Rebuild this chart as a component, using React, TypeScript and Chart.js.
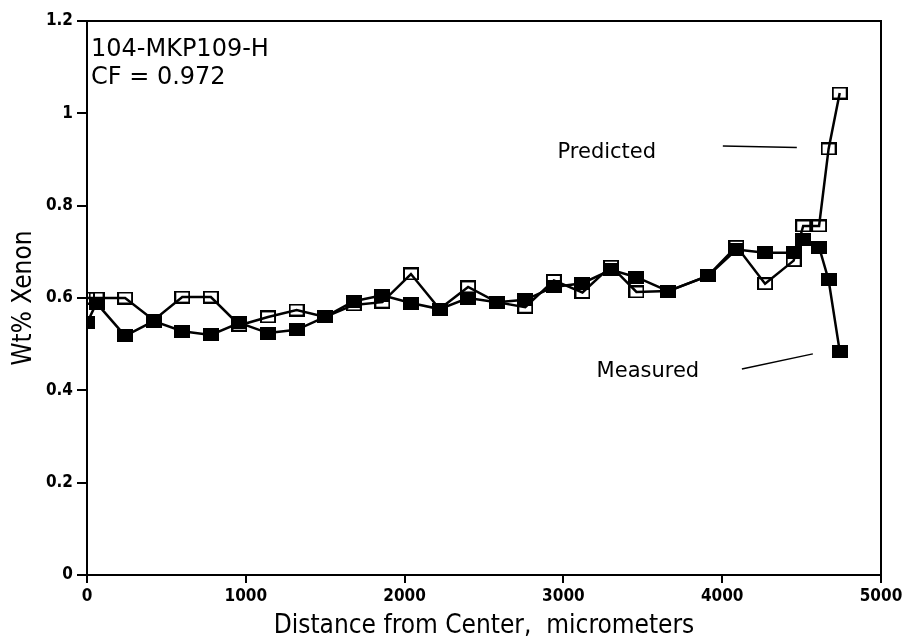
import React, { useEffect, useRef } from "react";
import { Chart, registerables } from "chart.js";

Chart.register(...registerables);

// ---- Data ----
const distances = [
  0, 60, 240, 420, 600, 780, 960, 1140, 1320, 1500, 1680, 1860, 2040, 2220, 2400,
  2580, 2760, 2940, 3120, 3300, 3460, 3660, 3910, 4090, 4270, 4450, 4510, 4610, 4670, 4740,
];
const measured = [
  0.546, 0.589, 0.518, 0.55, 0.528, 0.52, 0.546, 0.524, 0.531, 0.559, 0.593, 0.606, 0.589,
  0.576, 0.6, 0.591, 0.596, 0.624, 0.632, 0.661, 0.645, 0.615, 0.648, 0.705, 0.698, 0.698,
  0.726, 0.71, 0.639, 0.485,
];
const predicted = [
  0.6, 0.6, 0.6, 0.552, 0.602, 0.602, 0.541, 0.559, 0.574, 0.559, 0.585, 0.591, 0.652,
  0.576, 0.624, 0.591, 0.58, 0.638, 0.612, 0.669, 0.613, 0.615, 0.648, 0.712, 0.631, 0.681,
  0.756, 0.756, 0.923, 1.044,
];
const xTickValues = [0, 1000, 2000, 3000, 4000, 5000];
const yTickValues = [0, 0.2, 0.4, 0.6, 0.8, 1, 1.2];
const sampleLabel = "104-MKP109-H";
const cfLabel = "CF = 0.972";
const predictedLabel = "Predicted";
const measuredLabel = "Measured";
const xTitle = "Distance from Center,  micrometers";
const yTitle = "Wt% Xenon";

const FONT = "'DejaVu Sans', sans-serif";
const CFONT = "'DejaVu Sans Condensed', 'DejaVu Sans', sans-serif";

function makeSquare(filled: boolean): HTMLCanvasElement {
  const c = document.createElement("canvas");
  c.width = 16;
  c.height = 13;
  const g = c.getContext("2d")!;
  if (filled) {
    g.fillStyle = "#000";
    g.fillRect(0, 0, 16, 13);
  } else {
    g.strokeStyle = "#000";
    g.lineWidth = 2;
    g.strokeRect(1, 1, 14, 11);
  }
  return c;
}

const annotationPlugin = {
  id: "annotations",
  afterDraw(chart: any) {
    const { ctx, chartArea } = chart;
    const xs = chart.scales.x;
    const ys = chart.scales.y;
    const px = (v: number) => xs.getPixelForValue(v);
    const py = (v: number) => ys.getPixelForValue(v);
    ctx.save();
    // frame
    ctx.strokeStyle = "#000";
    ctx.lineWidth = 2;
    ctx.strokeRect(chartArea.left, chartArea.top, chartArea.right - chartArea.left, chartArea.bottom - chartArea.top);
    // texts
    ctx.fillStyle = "#000";
    ctx.textBaseline = "middle";
    ctx.textAlign = "left";
    ctx.font = `24px ${FONT}`;
    ctx.fillText(sampleLabel, px(25), py(1.137));
    ctx.fillText(cfLabel, px(25), py(1.076));
    ctx.font = `21px ${FONT}`;
    ctx.fillText(predictedLabel, px(2963), py(0.914));
    ctx.fillText(measuredLabel, px(3209), py(0.44));
    // key lines
    ctx.lineWidth = 1.5;
    ctx.beginPath();
    ctx.moveTo(px(4004), py(0.929));
    ctx.lineTo(px(4470), py(0.926));
    ctx.stroke();
    ctx.beginPath();
    ctx.moveTo(px(4124), py(0.446));
    ctx.lineTo(px(4571), py(0.479));
    ctx.stroke();
    ctx.restore();
  },
};

export default function App() {
  const ref = useRef<HTMLCanvasElement | null>(null);
  useEffect(() => {
    document.body.style.margin = "0";
    const openSq = makeSquare(false);
    const fillSq = makeSquare(true);
    const chart = new Chart(ref.current!, {
      type: "line",
      data: {
        datasets: [
          {
            label: "Measured",
            data: distances.map((d, i) => ({ x: d, y: measured[i] })),
            borderColor: "#000",
            borderWidth: 2.5,
            pointStyle: fillSq as any,
            pointRadius: 8,
            fill: false,
            tension: 0,
            order: 0,
          },
          {
            label: "Predicted",
            data: distances.map((d, i) => ({ x: d, y: predicted[i] })),
            borderColor: "#000",
            borderWidth: 2.5,
            pointStyle: openSq as any,
            pointRadius: 8,
            fill: false,
            tension: 0,
            order: 1,
          },
        ],
      },
      options: {
        responsive: false,
        animation: false,
        layout: { padding: { top: 21, right: 27, left: 0, bottom: 0 } },
        plugins: { legend: { display: false }, tooltip: { enabled: false } },
        scales: {
          x: {
            type: "linear",
            min: 0,
            max: 5000,
            afterBuildTicks: (s: any) => {
              s.ticks = xTickValues.map((v) => ({ value: v }));
            },
            afterFit: (s: any) => {
              s.height = 64;
            },
            ticks: {
              color: "#000",
              font: { family: CFONT, size: 17, weight: "bold" },
              padding: 3,
              maxRotation: 0,
              callback: (v: any) => String(v),
            },
            grid: { display: true, drawOnChartArea: false, drawTicks: true, tickLength: 8, color: "#000", lineWidth: 2 },
            border: { display: true, color: "#000", width: 2 },
            title: {
              display: true,
              text: xTitle,
              color: "#000",
              font: { family: CFONT, size: 26, lineHeight: 1 },
              padding: { top: 0, bottom: 0 },
            },
          },
          y: {
            type: "linear",
            min: 0,
            max: 1.2,
            afterBuildTicks: (s: any) => {
              s.ticks = yTickValues.map((v) => ({ value: v }));
            },
            afterFit: (s: any) => {
              s.width = 87;
            },
            ticks: {
              color: "#000",
              font: { family: CFONT, size: 17, weight: "bold" },
              padding: 4,
              callback: (v: any) => String(v),
            },
            grid: { display: true, drawOnChartArea: false, drawTicks: true, tickLength: 10, color: "#000", lineWidth: 2 },
            border: { display: true, color: "#000", width: 2 },
            title: {
              display: true,
              text: yTitle,
              color: "#000",
              font: { family: CFONT, size: 26, lineHeight: 1 },
              padding: { top: 11, bottom: 0 },
            },
          },
        },
      },
      plugins: [annotationPlugin],
    });
    return () => chart.destroy();
  }, []);
  return (
    <canvas
      ref={ref}
      width={908}
      height={639}
      style={{ position: "fixed", left: 0, top: 0, display: "block", width: 908, height: 639 }}
    />
  );
}
